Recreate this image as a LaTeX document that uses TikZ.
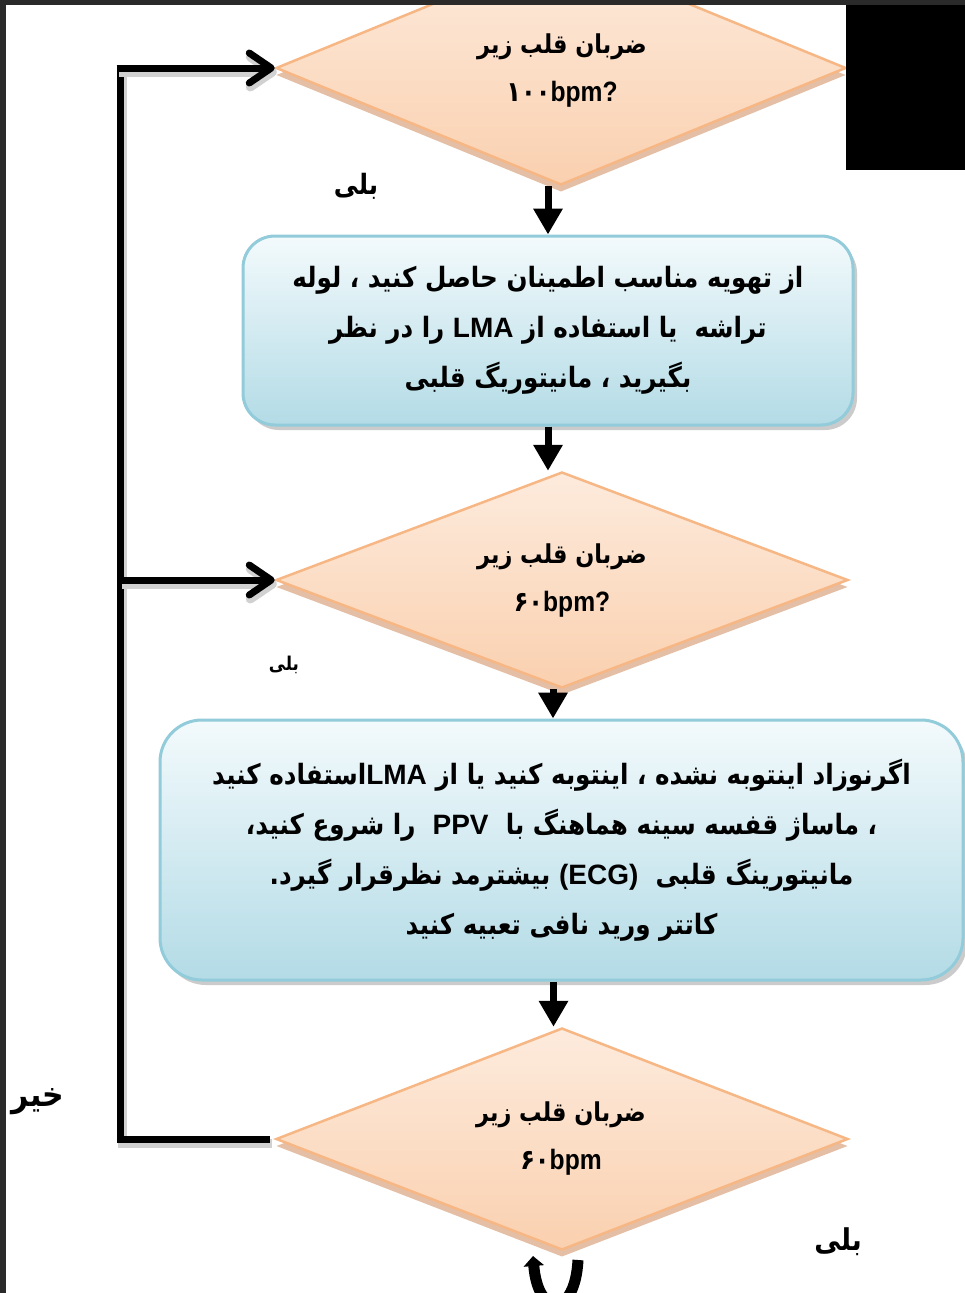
\documentclass[tikz,border=0pt]{standalone}
\usepackage{fontspec}
\setmainfont{Liberation Sans}
\newfontfamily\fa[Script=Arabic,FakeStretch=0.88]{DejaVu Sans}
\newfontfamily\fad[Script=Arabic,FakeStretch=0.86]{DejaVu Sans}
\newfontfamily\lat{Liberation Sans}
\newfontfamily\latn[FakeStretch=0.88]{Liberation Sans}
\TeXXeTstate=1
\usetikzlibrary{shapes.geometric,arrows.meta,shadows}
\definecolor{dfillT}{HTML}{FDEBDD}
\definecolor{dfillB}{HTML}{FAD0AF}
\definecolor{dline}{HTML}{F7B785}
\definecolor{dshadow}{HTML}{D9A47F}
\definecolor{bfillT}{HTML}{F3FAFC}
\definecolor{bfillB}{HTML}{B3DBE6}
\definecolor{bline}{HTML}{92CBDA}
\definecolor{framec}{HTML}{2A2A2A}
\newcommand\RT[1]{\beginR #1\endR}
\newcommand\LT[1]{{\lat\beginL #1\endL}}
\tikzset{
  dia/.style={diamond, draw=dline, line width=2.5pt, top color=dfillT, bottom color=dfillB,
    inner sep=0pt, drop shadow={shadow xshift=0pt, shadow yshift=-7pt, fill=dshadow, opacity=0.7}},
  bbox/.style={rectangle, draw=bline, line width=3pt, top color=bfillT, bottom color=bfillB,
    align=center, inner sep=0pt,
    drop shadow={shadow xshift=4pt, shadow yshift=-5pt, fill=black!45, opacity=0.45},
    font=\fa\bfseries\fontsize{28}{50}\selectfont},
  dtext/.style={align=center, inner sep=0pt, font=\fad\fontsize{26}{48}\selectfont\bfseries},
  lbl/.style={inner sep=0pt, font=\fa\bfseries\fontsize{28}{30}\selectfont},
  lineshadow/.style={preaction={draw=black!18, line width=9pt, transform canvas={shift={(2pt,-4pt)}}}},
  darrow/.style={line width=7pt, -{Triangle[length=26pt,width=28pt]}},
  fbline/.style={line width=7pt, lineshadow},
  fbarrow/.style={line width=7pt, -{Straight Barb[length=22pt,width=30pt,round]}, lineshadow},
}
\begin{document}
\begin{tikzpicture}[x=1pt,y=-1pt]
\useasboundingbox (0,0) rectangle (965,1293);
\fill[white] (0,0) rectangle (965,1293);

% diamonds
\node[dia, minimum width=570pt, minimum height=234pt] (d1) at (561,68) {};
\node[dia, minimum width=572pt, minimum height=216pt] (d2) at (562,580) {};
\node[dia, minimum width=572pt, minimum height=222pt] (d3) at (562,1139) {};

% boxes
\node[bbox, minimum width=610pt, minimum height=189pt, rounded corners=32pt] (b1) at (548,330.5)
  {\RT{از تهویه مناسب اطمینان حاصل کنید ، لوله}\\
   \RT{تراشه \ یا استفاده از \LT{LMA} را در نظر}\\
   \RT{بگیرید ، مانیتوریگ قلبی}};
\node[bbox, minimum width=803pt, minimum height=260pt, rounded corners=42pt] (b2) at (561.5,850)
  {\RT{اگرنوزاد اینتوبه نشده ، اینتوبه کنید یا از \LT{LMA}استفاده کنید}\\
   \RT{، ماساژ قفسه سینه هماهنگ با \ \LT{PPV} \ را شروع کنید،}\\
   \RT{مانیتورینگ قلبی \ \LT{(ECG)} بیشترمد نظرقرار گیرد.}\\
   \RT{کاتتر ورید نافی تعبیه کنید}};

% diamond texts
\node[dtext] (t1) at (562,71) {\RT{ضربان قلب زیر}\\{\fad\fontsize{28}{48}\selectfont ۱۰۰}{\latn\fontsize{28}{48}\selectfont bpm?}};
\node[dtext] (t2) at (562,581) {\RT{ضربان قلب زیر}\\{\fad\fontsize{28}{48}\selectfont ۶۰}{\latn\fontsize{28}{48}\selectfont bpm?}};
\node[dtext] (t3) at (561,1139) {\RT{ضربان قلب زیر}\\{\fad\fontsize{28}{48}\selectfont ۶۰}{\latn\fontsize{28}{48}\selectfont bpm}};

% labels
\node[lbl] (y1) at (356,186) {\RT{بلی}};
\node[lbl, font=\fa\bfseries\fontsize{19}{20}\selectfont] (y2) at (284,665) {\RT{بلی}};
\node[lbl, font=\fa\bfseries\fontsize{30}{32}\selectfont] (y3) at (838,1242) {\RT{بلی}};
\node[lbl, font=\fa\bfseries\fontsize{34}{34}\selectfont] (n1) at (38,1102) {\RT{خیر}};

% down arrows
\draw[darrow] (d1.south -| b1.north) -- (b1.north);
\draw[darrow] (b1.south) -- (b1.south |- d2.north);
\draw[darrow] ([xshift=-9pt]d2.south) -- ([xshift=-9pt]d2.south |- b2.north);
\draw[darrow] ([xshift=-8pt]b2.south) -- ([xshift=-8pt]b2.south |- d3.north);

% feedback rail
\coordinate (rail) at (120,0);
\draw[fbline] ([xshift=-5pt]d3.west) -- (d3.west -| rail) -- (d1.west -| rail);
\draw[fbarrow] ([xshift=-3.5pt]d1.west -| rail) -- (d1.west);
\draw[fbarrow] (d2.west -| rail) -- (d2.west);

% cut-off arrow at bottom
\coordinate (ua) at (578,1260);
\coordinate (ub) at (533,1256);
\draw[line width=11pt, -{Triangle[length=10pt,width=20pt]}] (ua) .. controls (575,1318) and (538,1318) .. (ub);

% frame
\fill[framec] (0,0) rectangle (965,5);
\fill[framec] (0,0) rectangle (6,1293);
\fill[black] (846,5) rectangle (965,170);
\end{tikzpicture}
\end{document}
